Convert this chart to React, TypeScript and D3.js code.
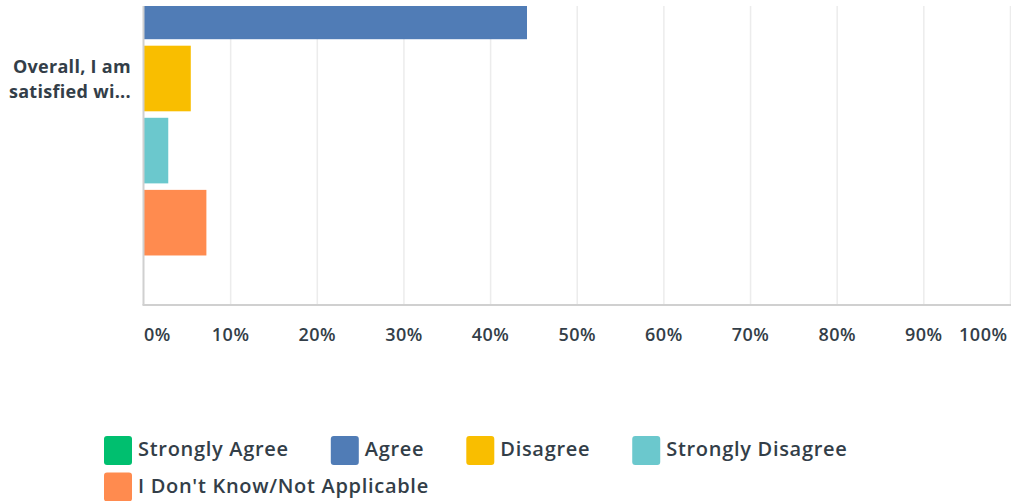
import React, { useEffect, useRef } from 'react';
import * as d3 from 'd3';

const categories = ['Overall, I am satisfied wi...'];
const categoryLines = [['Overall, I am', 'satisfied wi...']];
const seriesNames = [
  'Strongly Agree',
  'Agree',
  'Disagree',
  'Strongly Disagree',
  "I Don't Know/Not Applicable",
];
// percent of responses per answer
const seriesValues = [40.4, 44.2, 5.4, 2.8, 7.2];
const seriesColors = ['#00bf6f', '#507cb6', '#f9be00', '#6bc8cd', '#ff8b4f'];
const xTicks = [0, 10, 20, 30, 40, 50, 60, 70, 80, 90, 100];

const width = 1011;
const height = 501;
const textColor = '#333e48';
const font = "'Open Sans', sans-serif";

const App: React.FC = () => {
  const ref = useRef<SVGSVGElement>(null);

  useEffect(() => {
    if (!ref.current) return;
    const svg = d3.select(ref.current);
    svg.selectAll('*').remove();

    const plot = { left: 144, right: 1010.5, top: 6, bottom: 305 };

    const x = d3.scaleLinear().domain([0, 100]).range([plot.left, plot.right]);
    const y0 = d3.scaleBand<string>().domain(categories).range([-148, plot.bottom]);
    const y1 = d3
      .scaleBand<string>()
      .domain(seriesNames)
      .range([0, y0.bandwidth()])
      .paddingInner(0.09)
      .paddingOuter(0.687);

    svg
      .append('defs')
      .append('clipPath')
      .attr('id', 'plot-clip')
      .append('rect')
      .attr('x', 0)
      .attr('y', plot.top)
      .attr('width', width)
      .attr('height', plot.bottom - plot.top);

    const g = svg.append('g').attr('clip-path', 'url(#plot-clip)');

    // grid
    g.selectAll('line.grid')
      .data(xTicks.filter(t => t > 0))
      .enter()
      .append('line')
      .attr('x1', d => x(d))
      .attr('x2', d => x(d))
      .attr('y1', plot.top)
      .attr('y2', plot.bottom)
      .attr('stroke', '#ececec')
      .attr('stroke-width', 1.5);

    categories.forEach((cat, ci) => {
      const base = y0(cat) as number;
      g.selectAll(`rect.bar-${ci}`)
        .data(seriesNames)
        .enter()
        .append('rect')
        .attr('x', x(0))
        .attr('y', d => base + (y1(d) as number))
        .attr('width', (_, i) => x(seriesValues[i]) - x(0))
        .attr('height', y1.bandwidth())
        .attr('fill', (_, i) => seriesColors[i]);

      const cy = base + y0.bandwidth() / 2;
      svg
        .append('text')
        .attr('x', 131)
        .attr('y', cy - 6)
        .attr('text-anchor', 'end')
        .attr('font-family', font)
        .attr('font-weight', 700)
        .attr('font-size', 18)
        .attr('letter-spacing', 0.3)
        .attr('fill', textColor)
        .selectAll('tspan')
        .data(categoryLines[ci])
        .enter()
        .append('tspan')
        .attr('x', 131)
        .attr('dy', (_, i) => (i === 0 ? 0 : 25.5))
        .text(d => d);
    });

    // axes
    svg
      .append('line')
      .attr('x1', plot.left - 0.5)
      .attr('x2', plot.left - 0.5)
      .attr('y1', plot.top)
      .attr('y2', plot.bottom)
      .attr('stroke', '#d0d0d0')
      .attr('stroke-width', 2);
    svg
      .append('line')
      .attr('x1', plot.left - 1.5)
      .attr('x2', width)
      .attr('y1', plot.bottom)
      .attr('y2', plot.bottom)
      .attr('stroke', '#d0d0d0')
      .attr('stroke-width', 2);

    svg
      .selectAll('text.tick')
      .data(xTicks)
      .enter()
      .append('text')
      .attr('class', 'tick')
      .attr('x', (d, i) => (i === xTicks.length - 1 ? x(d) - 3 : x(d)))
      .attr('y', 341)
      .attr('text-anchor', (_, i) =>
        i === 0 ? 'start' : i === xTicks.length - 1 ? 'end' : 'middle',
      )
      .attr('font-family', font)
      .attr('font-weight', 600)
      .attr('font-size', 18)
      .attr('letter-spacing', 0.5)
      .attr('fill', textColor)
      .text(d => `${d}%`);

    // legend, flowed left to right and wrapped
    const legend = svg.append('g');
    const sw = 28;
    const rowH = 36.5;
    let lx = 104;
    let ly = 436;
    seriesNames.forEach((name, i) => {
      const item = legend.append('g');
      item
        .append('rect')
        .attr('width', sw)
        .attr('height', 29)
        .attr('rx', 3)
        .attr('fill', seriesColors[i]);
      const t = item
        .append('text')
        .attr('x', sw + 6)
        .attr('y', 20)
        .attr('font-family', font)
        .attr('font-weight', 600)
        .attr('font-size', 20)
        .attr('letter-spacing', 0.7)
        .attr('fill', textColor)
        .text(name);
      const w = sw + 6 + (t.node() as SVGTextElement).getComputedTextLength();
      if (lx > 104 && lx + w > 1000) {
        lx = 104;
        ly += rowH;
      }
      item.attr('transform', `translate(${lx},${ly})`);
      lx += w + 42;
    });
  }, []);

  return (
    <svg
      ref={ref}
      width={width}
      height={height}
      style={{ position: 'absolute', left: 0, top: 0, background: '#fff' }}
    />
  );
};

export default App;
